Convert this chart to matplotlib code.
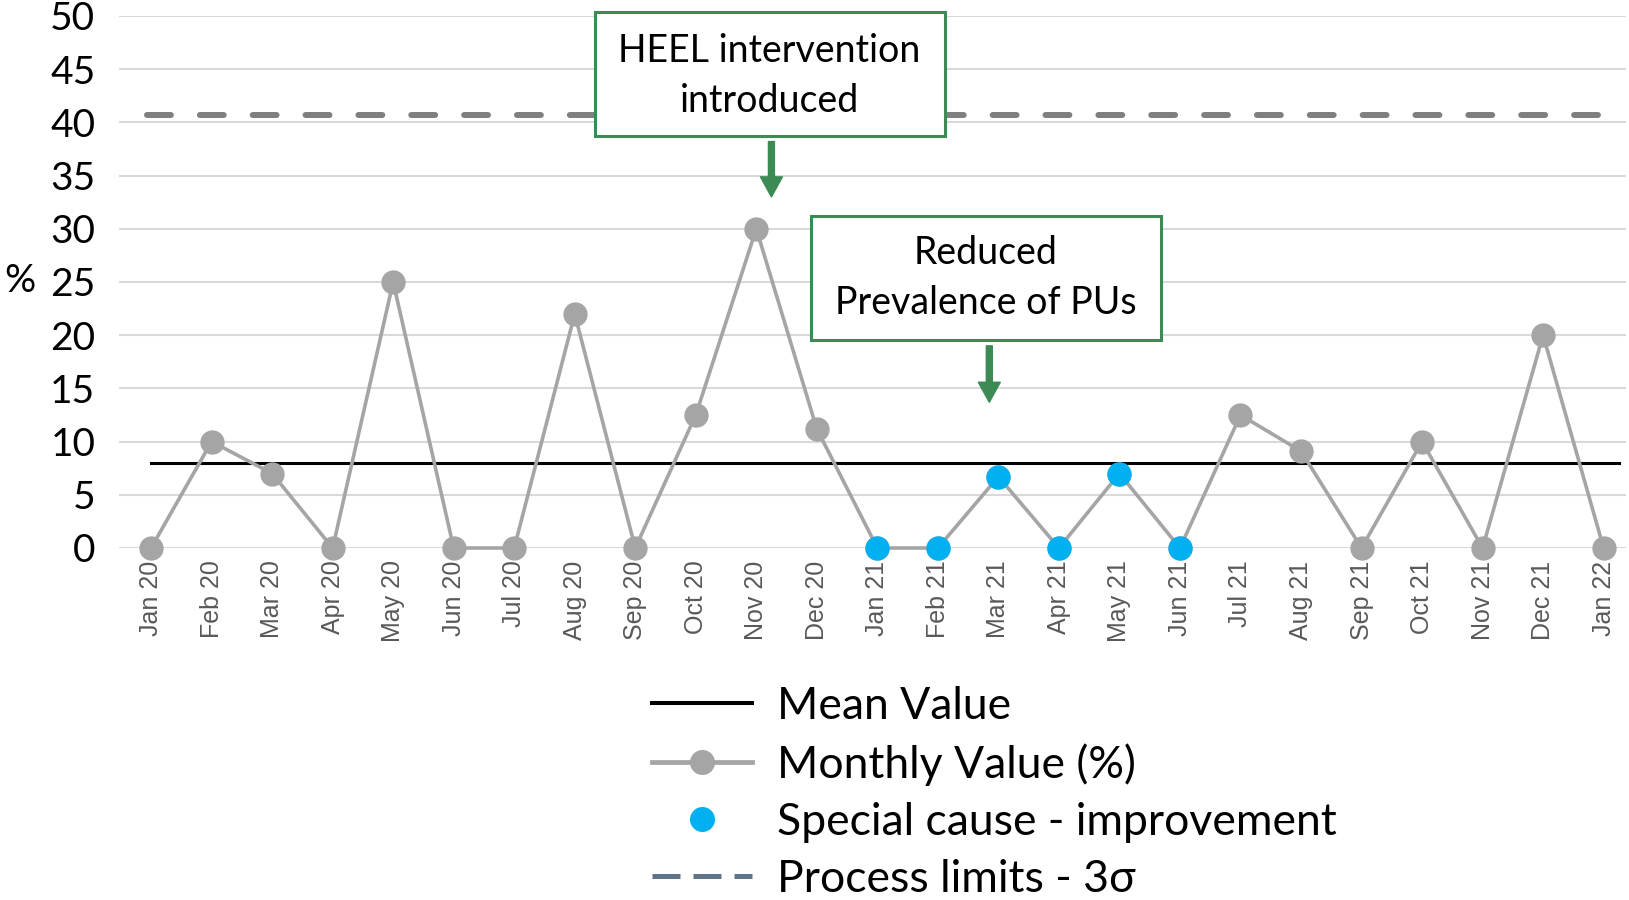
import matplotlib
matplotlib.use("Agg")
import matplotlib.pyplot as plt
from matplotlib.lines import Line2D
from matplotlib.patches import Rectangle

# ---- data ----
months = ["Jan 20", "Feb 20", "Mar 20", "Apr 20", "May 20", "Jun 20", "Jul 20",
          "Aug 20", "Sep 20", "Oct 20", "Nov 20", "Dec 20", "Jan 21", "Feb 21",
          "Mar 21", "Apr 21", "May 21", "Jun 21", "Jul 21", "Aug 21", "Sep 21",
          "Oct 21", "Nov 21", "Dec 21", "Jan 22"]
monthly_values = [0, 10, 7, 0, 25, 0, 0, 22, 0, 12.5, 30, 11.2, 0, 0,
                  6.7, 0, 7.0, 0, 12.5, 9.1, 0, 10, 0, 20, 0]
special_cause_months = ["Jan 21", "Feb 21", "Mar 21", "Apr 21", "May 21", "Jun 21"]
mean_value = 8.0
upper_process_limit = 40.7
y_ticks = [0, 5, 10, 15, 20, 25, 30, 35, 40, 45, 50]

GRAY = "#a5a5a5"
BLUE = "#00b0f0"
GREEN = "#3d8b54"
FONT = "Lato"

x = list(range(len(months)))
sc_x = [months.index(m) for m in special_cause_months]
sc_y = [monthly_values[i] for i in sc_x]

fig = plt.figure(figsize=(16.29, 9.0), dpi=100)
ax = fig.add_axes([119 / 1629, 1 - 548 / 900, (1626 - 119) / 1629, (548 - 16) / 900])
ax.set_xlim(-0.53, 24.37)
ax.set_ylim(0, 50)

for s in ax.spines.values():
    s.set_visible(False)

ax.set_yticks(y_ticks)
ax.set_yticklabels([str(t) for t in y_ticks], fontfamily=FONT, fontsize=28)
ax.tick_params(axis="y", length=0, pad=17)
ax.yaxis.grid(True, color="#d9d9d9", lw=1.5)
ax.set_axisbelow(True)

ax.set_xticks(x)
ax.set_xticklabels(months, rotation=90, fontfamily="Liberation Sans",
                   fontsize=18, color="#595959")
ax.tick_params(axis="x", length=0, pad=9)

# process limit
pl, = ax.plot([-0.07, 24.2], [upper_process_limit] * 2, color="#7f7f7f", lw=4.3,
              solid_capstyle="round", dash_capstyle="round", zorder=2)
pl.set_dashes((4.0, 4.85))

# mean line
ax.plot([0, 24.25], [mean_value] * 2, color="black", lw=2.2, zorder=3)

# monthly values
ax.plot(x, monthly_values, color=GRAY, lw=2.6, marker="o", ms=17.5,
        markeredgewidth=0, zorder=4, clip_on=False)
ax.plot(sc_x, sc_y, ls="none", marker="o", ms=17.5, color=BLUE,
        markeredgewidth=0, zorder=5, clip_on=False)

# annotation boxes
def box(x0, x1, y0, y1, text, tx, ty):
    r = Rectangle((x0, y0), x1 - x0, y1 - y0, facecolor="white", edgecolor=GREEN,
                  lw=2.2, zorder=6, clip_on=False)
    ax.add_patch(r)
    ax.text(tx, ty, text, ha="center", va="center", fontfamily=FONT, fontsize=27,
            linespacing=1.48, zorder=7, clip_on=False)

def arrow(xd, y_from, y_to):
    ax.annotate("", xy=(xd, y_to), xytext=(xd, y_from),
                arrowprops=dict(arrowstyle="simple,head_length=14.4,head_width=15.8,tail_width=4.3",
                                mutation_scale=1, color=GREEN, shrinkA=0, shrinkB=0),
                zorder=7, annotation_clip=False)

box(7.34, 13.11, 38.7, 50.4, "HEEL intervention\nintroduced", 10.22, 44.4)
arrow(10.25, 38.2, 33.0)
box(10.91, 16.68, 19.55, 31.2, "Reduced\nPrevalence of PUs", 13.79, 25.4)
arrow(13.85, 19.0, 13.7)

# % label
fig.text(20 / 1629, 1 - 281 / 900, "%", fontfamily=FONT, fontsize=28,
         ha="center", va="center")

# legend
dash_h = Line2D([], [], color="#5f7489", lw=3.6)
dash_h.set_dashes((5.6, 2.6))
handles = [
    Line2D([], [], color="black", lw=2.9),
    Line2D([], [], color=GRAY, lw=3.4, marker="o", ms=18, markeredgewidth=0),
    Line2D([], [], ls="none", marker="o", ms=18, color=BLUE, markeredgewidth=0),
    dash_h,
]
labels = ["Mean Value", "Monthly Value (%)", "Special cause - improvement",
          "Process limits - 3σ"]
fig.legend(handles, labels, loc="upper left", bbox_to_anchor=(652 / 1629, 1 - 686 / 900),
           frameon=False, prop={"family": FONT, "size": 32}, handlelength=2.25,
           handletextpad=0.56, labelspacing=0.36, borderpad=0, borderaxespad=0)

fig.savefig("out.png", dpi=100)
